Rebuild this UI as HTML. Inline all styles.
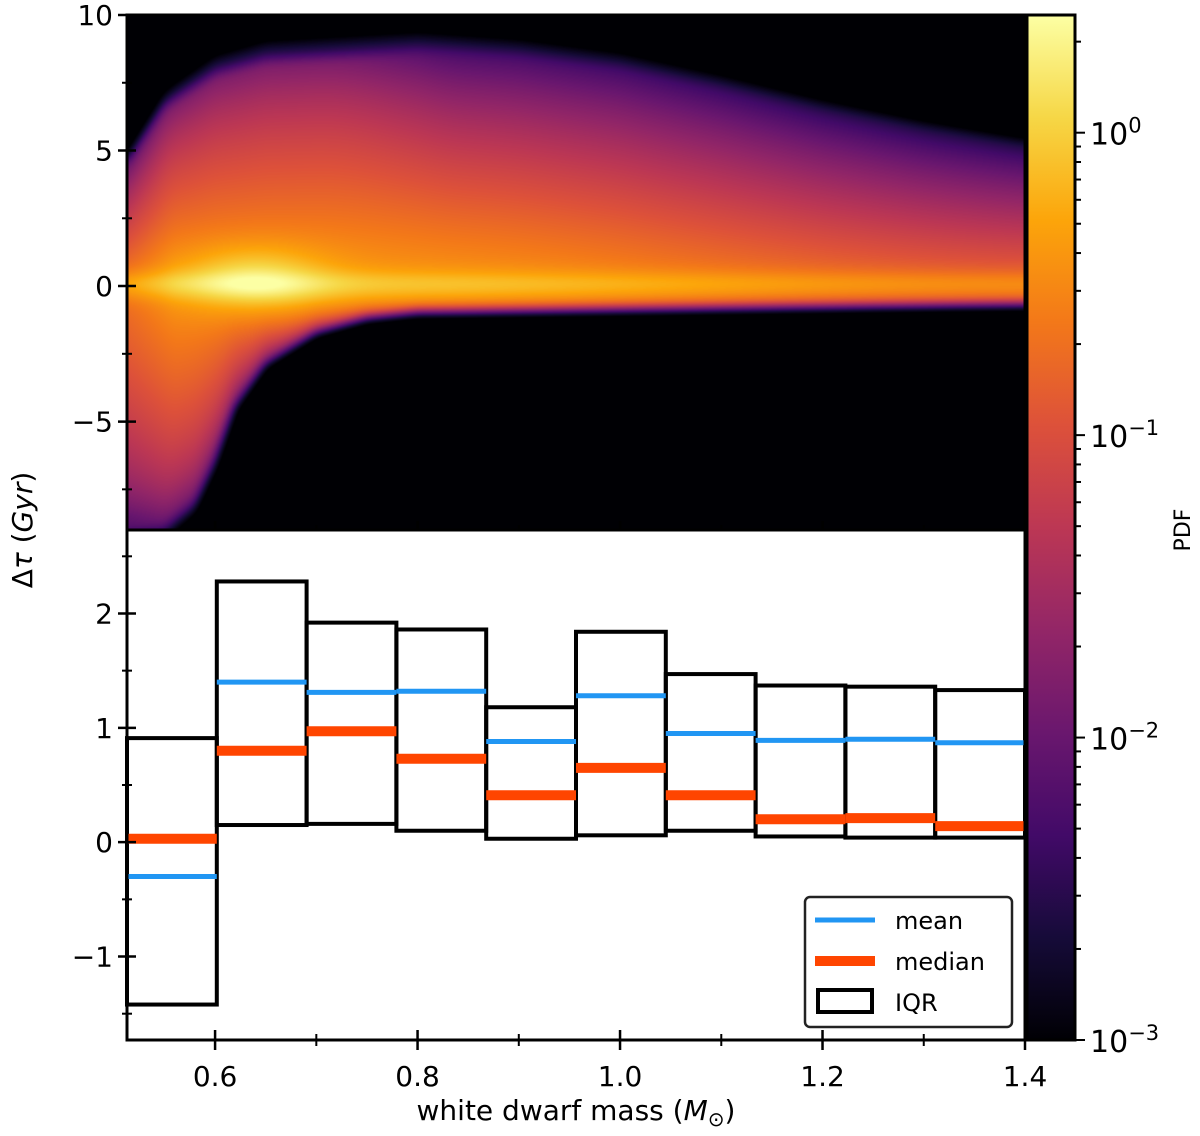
<!DOCTYPE html>
<html><head><meta charset="utf-8">
<style>
body{margin:0;background:#fff;font-family:"DejaVu Sans","Liberation Sans",sans-serif;}
#wrap{position:relative;width:1200px;height:1136px;overflow:hidden;}
#heat{position:absolute;left:127px;top:15px;}
svg{position:absolute;left:0;top:0;}
text{font-family:"DejaVu Sans","Liberation Sans",sans-serif;fill:#000;}
</style></head>
<body>
<div id="wrap">
<canvas id="heat" width="898" height="515"></canvas>
<svg id="svg" width="1200" height="1136">
<defs>
<linearGradient id="inf" x1="0" y1="1" x2="0" y2="0">
<stop offset="0" stop-color="#000004"/><stop offset="0.1" stop-color="#160b39"/>
<stop offset="0.2" stop-color="#420a68"/><stop offset="0.3" stop-color="#6a176e"/>
<stop offset="0.4" stop-color="#932667"/><stop offset="0.5" stop-color="#bc3754"/>
<stop offset="0.6" stop-color="#dd513a"/><stop offset="0.7" stop-color="#f37819"/>
<stop offset="0.8" stop-color="#fca50a"/><stop offset="0.9" stop-color="#f6d746"/>
<stop offset="1" stop-color="#fcffa4"/>
</linearGradient>
</defs>
<g id="g"></g>
</svg>
</div>
<script>
// ---- data ----
const binEdgesStart = 0.513, binEdgesEnd = 1.4;
const iqrTop    = [0.91, 2.28, 1.92, 1.86, 1.18, 1.84, 1.47, 1.37, 1.36, 1.33];
const iqrBottom = [-1.42, 0.15, 0.16, 0.10, 0.03, 0.06, 0.10, 0.05, 0.04, 0.04];
const meanVals  = [-0.30, 1.40, 1.31, 1.32, 0.88, 1.28, 0.95, 0.89, 0.90, 0.87];
const medianVals= [0.03, 0.80, 0.97, 0.73, 0.41, 0.65, 0.41, 0.20, 0.21, 0.14];
const xTicks = [0.6, 0.8, 1.0, 1.2, 1.4];
const xTickLabels = ["0.6","0.8","1.0","1.2","1.4"];
const topYTicks = [10, 5, 0, -5];
const topYLabels = ["10","5","0","\u22125"];
const botYTicks = [2, 1, 0, -1];
const botYLabels = ["2","1","0","\u22121"];
const cbDecades = [0, -1, -2, -3];
// envelope shape of density (mass, Gyr)
const upperM = [0.513,0.55,0.6,0.65,0.7,0.8,0.9,1.0,1.1,1.2,1.3,1.4];
const upperH = [4.6,6.6,7.8,8.3,8.4,8.6,8.4,8.0,7.3,6.5,5.8,5.2];
const lowerM = [0.513,0.55,0.58,0.6,0.62,0.65,0.7,0.75,0.8,1.4];
const lowerL = [-8.8,-8.7,-7.8,-6.3,-4.3,-2.8,-1.7,-1.2,-1.0,-0.75];

// ---- axes ----
const X0=127, X1=1025, XMIN=0.513, XMAX=1.4;
const sx = m => X0 + (m-XMIN)/(XMAX-XMIN)*(X1-X0);
const TY0=15, TY1=530, TMAX=10, TMIN=-9;
const syT = t => TY0 + (TMAX-t)/(TMAX-TMIN)*(TY1-TY0);
const BY0=530, BY1=1040, BMAX=2.73, BMIN=-1.73;
const syB = v => BY0 + (BMAX-v)/(BMAX-BMIN)*(BY1-BY0);
const CB0=15, CB1=1040, CMAX=Math.log10(2.45), CMIN=-3;
const syC = l => CB0 + (CMAX-l)/(CMAX-CMIN)*(CB1-CB0);

const NS="http://www.w3.org/2000/svg";
const g=document.getElementById('g');
function el(tag, attrs, parent){const e=document.createElementNS(NS,tag);for(const k in attrs)e.setAttribute(k,attrs[k]);(parent||g).appendChild(e);return e;}
function txt(x,y,s,size,anchor,parent){const t=el('text',{x:x,y:y,'font-size':size,'text-anchor':anchor||'middle'},parent);t.textContent=s;return t;}

// ---- heatmap ----
function interp(xs,ys,x){if(x<=xs[0])return ys[0];for(let i=1;i<xs.length;i++){if(x<=xs[i]){const f=(x-xs[i-1])/(xs[i]-xs[i-1]);return ys[i-1]+f*(ys[i]-ys[i-1]);}}return ys[ys.length-1];}
function sstep(a,b,x){const f=Math.max(0,Math.min(1,(x-a)/(b-a)));return f*f*(3-2*f);}
const stops=[[0,0,0,4],[0.1,22,11,57],[0.2,66,10,104],[0.3,106,23,110],[0.4,147,38,103],[0.5,188,55,84],[0.6,221,81,58],[0.7,243,120,25],[0.8,252,165,10],[0.9,246,215,70],[1,252,255,164]];
function cmap(v){v=Math.max(0,Math.min(1,v));for(let i=1;i<stops.length;i++){if(v<=stops[i][0]){const a=stops[i-1],b=stops[i],f=(v-a[0])/(b[0]-a[0]);return [a[1]+f*(b[1]-a[1]),a[2]+f*(b[2]-a[2]),a[3]+f*(b[3]-a[3])];}}return [252,255,164];}
(function(){
  const c=document.getElementById('heat').getContext('2d');
  const W=898,H=515,P=14,WW=W+2*P,HH=H+2*P;
  const V=new Float32Array(WW*HH);
  for(let px=0;px<WW;px++){
    const m=XMIN+(px-P+0.5)/W*(XMAX-XMIN);
    const Hu=interp(upperM,upperH,m), Ll=interp(lowerM,lowerL,m);
    const A = -0.35-0.4*sstep(0.75,1.4,m);
    const leftFade = m<0.56 ? -0.25*(0.56-m)/0.05 : 0;
    const mid = sstep(0.7,0.85,m);
    const steep = 1.3+2.7*sstep(0.6,0.8,m);
    for(let py=0;py<HH;py++){
      const t=TMAX-(py-P+0.5)/H*(TMAX-TMIN);
      let v;
      if(t>=0){
        const f=t/Hu;
        v = f<1 ? A+leftFade-(1.25+mid*0.3)*Math.pow(f,1.1)-0.3*Math.pow(f,6) : A+leftFade-1.85-9*(f-1);
      } else {
        const f=t/Ll;
        v = f<1 ? A-0.1+leftFade-1.1*Math.pow(f,steep)-0.4*Math.pow(f,8) : A-1.6-14*(f-1);
      }
      v += 0.35*Math.exp(-t*t/(2*0.35*0.35));
      const spot=Math.exp(-((m-0.64)*(m-0.64))/(2*0.05*0.05)-(t-0.2)*(t-0.2)/(2*0.9*0.9));
      v += 0.55*spot;
      V[py*WW+px]=Math.max(v,CMIN-0.2);
    }
  }
  // separable box blur (two passes) to smooth polygon corners
  function blur(src,r){
    const tmp=new Float32Array(WW*HH),out=new Float32Array(WW*HH);
    for(let y=0;y<HH;y++)for(let x=0;x<WW;x++){let s=0,n=0;for(let k=-r;k<=r;k++){const xx=Math.min(WW-1,Math.max(0,x+k));s+=src[y*WW+xx];n++;}tmp[y*WW+x]=s/n;}
    for(let y=0;y<HH;y++)for(let x=0;x<WW;x++){let s=0,n=0;for(let k=-r;k<=r;k++){const yy=Math.min(HH-1,Math.max(0,y+k));s+=tmp[yy*WW+x];n++;}out[y*WW+x]=s/n;}
    return out;
  }
  const B=blur(blur(V,5),4);
  const img=c.createImageData(W,H);
  for(let py=0;py<H;py++)for(let px=0;px<W;px++){
    const v=B[(py+P)*WW+px+P];
    const col=cmap((v-CMIN)/(CMAX-CMIN)),k=(py*W+px)*4;
    img.data[k]=col[0];img.data[k+1]=col[1];img.data[k+2]=col[2];img.data[k+3]=255;
  }
  c.putImageData(img,0,0);
})();

// ---- top panel axes ----
const topAx=el('g',{});


el('rect',{x:X0,y:TY0,width:X1-X0,height:TY1-TY0,fill:'none',stroke:'#000','stroke-width':3},topAx);
topYTicks.forEach((v,i)=>{
  const y=syT(v);
  el('line',{x1:X0-9,x2:X0+9,y1:y,y2:y,stroke:'#000','stroke-width':2.5},topAx);
  const t=txt(X0-14,y+10,topYLabels[i],28,'end',topAx);
  
  
});
[7.5,2.5,-2.5,-7.5].forEach(v=>{const y=syT(v);el('line',{x1:X0-5,x2:X0+5,y1:y,y2:y,stroke:'#000','stroke-width':2},topAx);});

// ---- bottom panel ----
const bot=el('g',{});


el('rect',{x:X0,y:BY0,width:X1-X0,height:BY1-BY0,fill:'#fff',stroke:'none'},bot);
const nb=iqrTop.length, bw=(binEdgesEnd-binEdgesStart)/nb;
for(let i=0;i<nb;i++){
  const a=binEdgesStart+i*bw, b=a+bw;
  const r=el('rect',{x:sx(a),y:syB(iqrTop[i]),width:sx(b)-sx(a),height:syB(iqrBottom[i])-syB(iqrTop[i]),fill:'none',stroke:'#000','stroke-width':4},bot);
  
  
}
for(let i=0;i<nb;i++){
  const a=binEdgesStart+i*bw, b=a+bw;
  const l=el('line',{x1:sx(a),x2:sx(b),y1:syB(meanVals[i]),y2:syB(meanVals[i]),stroke:'#2196f3','stroke-width':5},bot);
  
  
}
for(let i=0;i<nb;i++){
  const a=binEdgesStart+i*bw, b=a+bw;
  const l=el('line',{x1:sx(a),x2:sx(b),y1:syB(medianVals[i]),y2:syB(medianVals[i]),stroke:'#ff4500','stroke-width':10},bot);
  
  
}
el('rect',{x:X0,y:BY0,width:X1-X0,height:BY1-BY0,fill:'none',stroke:'#000','stroke-width':3},bot);
botYTicks.forEach((v,i)=>{
  const y=syB(v);
  el('line',{x1:X0-9,x2:X0+9,y1:y,y2:y,stroke:'#000','stroke-width':2.5},bot);
  const t=txt(X0-14,y+10,botYLabels[i],28,'end',bot);
  
  
});
[2.5,1.5,0.5,-0.5,-1.5].forEach(v=>{const y=syB(v);el('line',{x1:X0-5,x2:X0+5,y1:y,y2:y,stroke:'#000','stroke-width':2},bot);});
xTicks.forEach((v,i)=>{
  const x=sx(v);
  el('line',{x1:x,x2:x,y1:BY1-10,y2:BY1+10,stroke:'#000','stroke-width':2.5},bot);
  el('line',{x1:x,x2:x,y1:TY1-9,y2:TY1,stroke:'#000','stroke-width':2.5},bot);
  const t=txt(x,BY1+46,xTickLabels[i],28,'middle',bot);
  
  
});
[0.7,0.9,1.1,1.3].forEach(v=>{const x=sx(v);el('line',{x1:x,x2:x,y1:BY1-6,y2:BY1+6,stroke:'#000','stroke-width':2},bot);el('line',{x1:x,x2:x,y1:TY1-5,y2:TY1,stroke:'#000','stroke-width':2},bot);});

// ---- legend ----
const lg=el('g',{});


el('rect',{x:805,y:897,width:207,height:130,rx:5,fill:'#fff',stroke:'#222','stroke-width':2.5},lg);
el('line',{x1:815,x2:875,y1:920,y2:920,stroke:'#2196f3','stroke-width':5},lg);
txt(895,929,'mean',24,'start',lg);
el('line',{x1:815,x2:875,y1:961,y2:961,stroke:'#ff4500','stroke-width':10},lg);
txt(895,970,'median',24,'start',lg);
el('rect',{x:818,y:990,width:54,height:22,fill:'none',stroke:'#000','stroke-width':4},lg);
txt(895,1011,'IQR',24,'start',lg);

// ---- colorbar ----
const cb=el('g',{});


el('rect',{x:1027,y:CB0,width:48,height:CB1-CB0,fill:'url(#inf)',stroke:'#000','stroke-width':3},cb);
for(let d=-3;d<=0;d++){
  for(let k=1;k<10;k++){
    const l=d+Math.log10(k); if(l>CMAX)break;
    const y=syC(l);
    el('line',{x1:1075,x2:1075+(k===1?10:6),y1:y,y2:y,stroke:'#000','stroke-width':2},cb);
  }
}
cbDecades.forEach(d=>{
  const y=syC(d);
  const t=el('text',{x:1090,y:y+12,'font-size':30,'text-anchor':'start'},cb);
  
  
  const a=document.createElementNS(NS,'tspan');a.textContent='10';t.appendChild(a);
  const b=document.createElementNS(NS,'tspan');b.setAttribute('dy','-12');b.setAttribute('font-size','21');b.textContent=d===0?'0':'\u2212'+(-d);t.appendChild(b);
});
const pdf=txt(1190,530,'PDF',22,'middle',cb);
pdf.setAttribute('transform','rotate(-90 1190 530)');



// ---- axis titles ----
const xt=txt(576,1120,'',28,'middle');


const s1=document.createElementNS(NS,'tspan');s1.textContent='white dwarf mass (';xt.appendChild(s1);
const s2=document.createElementNS(NS,'tspan');s2.setAttribute('font-style','italic');s2.textContent='M';xt.appendChild(s2);
const s3=document.createElementNS(NS,'tspan');s3.setAttribute('font-size','20');s3.setAttribute('dy','6');s3.textContent='\u2299';xt.appendChild(s3);
const s4=document.createElementNS(NS,'tspan');s4.setAttribute('dy','-6');s4.textContent=')';xt.appendChild(s4);
const yt=el('text',{x:32,y:530,'font-size':28,'text-anchor':'middle',transform:'rotate(-90 32 530)'});


const y1=document.createElementNS(NS,'tspan');y1.textContent='\u0394';yt.appendChild(y1);
const y2=document.createElementNS(NS,'tspan');y2.setAttribute('font-style','italic');y2.textContent='\u03c4';yt.appendChild(y2);
const y3=document.createElementNS(NS,'tspan');y3.textContent=' (';yt.appendChild(y3);
const y4=document.createElementNS(NS,'tspan');y4.setAttribute('font-style','italic');y4.textContent='Gyr';yt.appendChild(y4);
const y5=document.createElementNS(NS,'tspan');y5.textContent=')';yt.appendChild(y5);
</script>
</body></html>
